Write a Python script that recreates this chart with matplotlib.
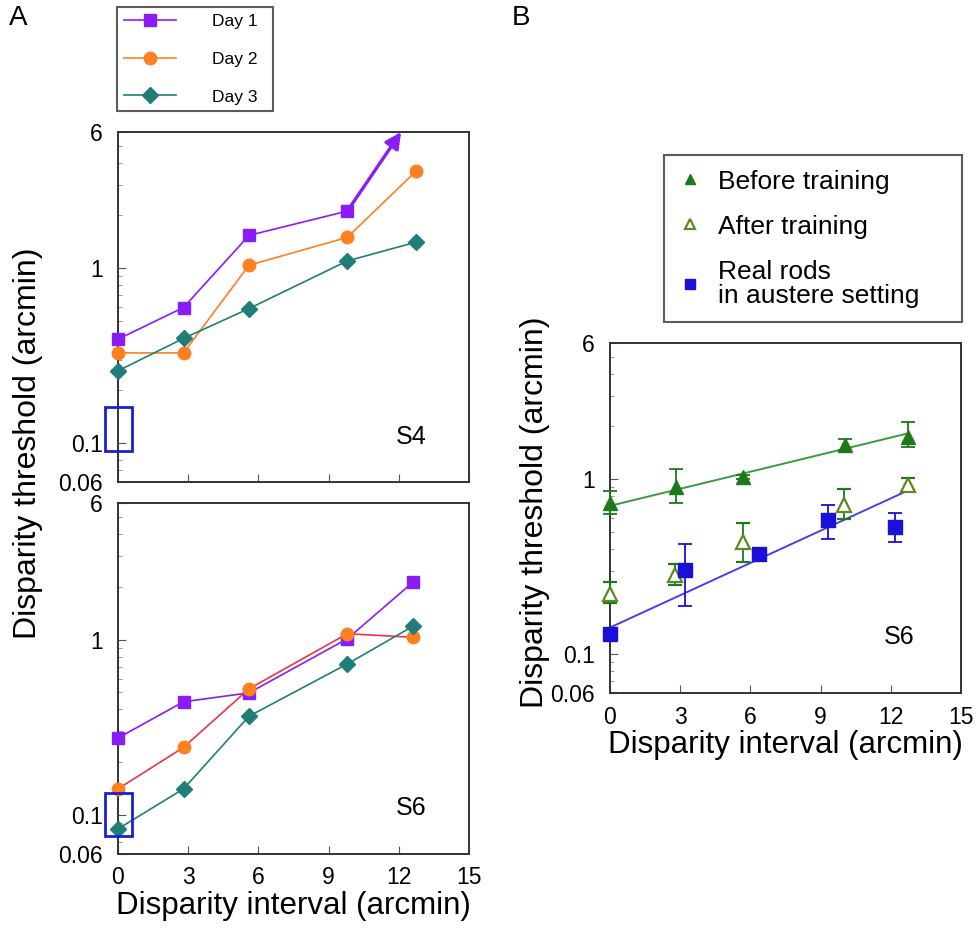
import numpy as np
import matplotlib
matplotlib.use("Agg")
import matplotlib.pyplot as plt
from matplotlib.ticker import LogLocator, NullFormatter, FixedLocator

plt.rcParams['font.family'] = ['Liberation Sans', 'DejaVu Sans']

# ---- panel A data (disparity interval, threshold) ----
days = ["Day 1", "Day 2", "Day 3"]

# S4
s4_x = [0, 2.8, 5.6, 9.8, 12.75]
s4_day1 = [0.393, 0.596, 1.54, 2.12]          # last point off scale -> arrow
s4_day1_arrow = [12.1, 6.0]
s4_day2 = [0.328, 0.328, 1.04, 1.50, 3.60]
s4_day3 = [0.259, 0.397, 0.588, 1.10, 1.41]

# S6
s6_x = [0, 2.8, 5.6, 9.8, 12.6]
s6_day1 = [0.275, 0.442, 0.497, 1.01, 2.12]
s6_day2 = [0.141, 0.243, 0.524, 1.08, 1.03]
s6_day3 = [0.0834, 0.141, 0.366, 0.726, 1.19]

# highlighted boxes at x=0 (x range, y range)
s4_box = [-0.56, 0.61, 0.09, 0.16]
s6_box = [-0.56, 0.61, 0.0764, 0.134]

# ---- panel B data ----
bt_x = [0, 2.8, 5.7, 10.05, 12.75]
bt_y = [0.73, 0.90, 1.03, 1.56, 1.74]
bt_lo = [0.63, 0.73, 1.0, 1.46, 1.52]
bt_hi = [0.86, 1.14, 1.06, 1.69, 2.12]

at_x = [0, 2.78, 5.7, 10.0, 12.75]
at_y = [0.222, 0.283, 0.438, 0.71, 0.924]
at_lo = [0.195, 0.248, 0.337, 0.59, 0.865]
at_hi = [0.259, 0.327, 0.563, 0.877, 1.02]

rr_x = [0, 3.2, 6.35, 9.33, 12.2]
rr_y = [0.130, 0.302, 0.376, 0.583, 0.530]
rr_lo = [0.130, 0.189, 0.376, 0.454, 0.438]
rr_hi = [0.130, 0.425, 0.376, 0.71, 0.637]

fit_x = [0, 12.76]
fit_bt = [0.704, 1.83]
fit_rr = [0.142, 0.865]

xticks = [0, 3, 6, 9, 12, 15]
yticks = [0.06, 0.1, 1, 6]
ytick_labels = ["0.06", "0.1", "1", "6"]

c_day1 = "#8a1cf5"
c_day2 = "#ff8020"
c_day3 = "#1f7f78"
c_red = "#ee3344"
c_green = "#1c7a1c"
c_green_line = "#3d9a3d"
c_blue = "#1a10d8"
c_blue_line = "#4a40e8"
c_box = "#1a20d0"

W, H = 979, 931
fig = plt.figure(figsize=(W / 100, H / 100), dpi=100)

def fr(l, t, r, b):
    return [l / W, (H - b) / H, (r - l) / W, (b - t) / H]

def style_axis(ax):
    ax.set_yscale("log")
    ax.set_xlim(0, 15)
    ax.set_ylim(0.06, 6)
    ax.yaxis.set_major_locator(FixedLocator(yticks))
    ax.set_yticklabels(ytick_labels)
    ax.yaxis.set_minor_locator(LogLocator(base=10, subs=np.arange(2, 10)))
    ax.yaxis.set_minor_formatter(NullFormatter())
    ax.set_xticks(xticks)
    ax.tick_params(axis="both", which="major", direction="in", length=6,
                   width=0.8, labelsize=16.5, color="#555555")
    ax.tick_params(axis="y", which="major", pad=11)
    ax.tick_params(axis="x", which="major", pad=9)
    ax.tick_params(axis="y", which="minor", direction="in", length=3,
                   width=0.6, color="#888888")
    ax.tick_params(top=False, right=False)
    for s in ax.spines.values():
        s.set_linewidth(1.4)
        s.set_color("#333333")

mk = dict(markersize=9, linewidth=1.2, clip_on=False, zorder=3)

# ---- A top (S4) ----
ax1 = fig.add_axes(fr(118, 132, 469, 482))
style_axis(ax1)
ax1.set_xticklabels([])
ax1.plot(s4_x[:4], s4_day1, marker="s", color=c_day1, label=days[0], **mk)
ax1.annotate("", xy=s4_day1_arrow, xytext=(s4_x[3], s4_day1[3]),
             arrowprops=dict(arrowstyle="-|>", color=c_day1, lw=2.4,
                             mutation_scale=24, shrinkA=0, shrinkB=0),
             annotation_clip=False)
ax1.plot(s4_x, s4_day2, marker="o", color=c_day2, label=days[1], **mk)
ax1.plot(s4_x, s4_day3, marker="D", color=c_day3, label=days[2],
         markersize=8, linewidth=1.2, clip_on=False, zorder=3)
ax1.add_patch(plt.Rectangle((s4_box[0], s4_box[2]), s4_box[1] - s4_box[0],
                            s4_box[3] - s4_box[2], fill=False, ec=c_box,
                            lw=2, clip_on=False, zorder=4))
ax1.text(0.836, 0.13, "S4", transform=ax1.transAxes, fontsize=18,
         ha="center", va="center")

leg = ax1.legend(loc="upper left",
                 bbox_to_anchor=(117 / W, 1 - 117 / H, 156 / W, 110 / H),
                 bbox_transform=fig.transFigure, mode="expand",
                 frameon=True, fancybox=False,
                 fontsize=12.5, handlelength=3.0, labelspacing=1.3,
                 borderpad=0.4, handletextpad=2.1, borderaxespad=0)
leg.get_frame().set_edgecolor("#333333")
leg.get_frame().set_linewidth(1.5)

# ---- A bottom (S6) ----
ax2 = fig.add_axes(fr(118, 503, 469, 854))
style_axis(ax2)
ax2.plot(s6_x, s6_day1, marker="s", color=c_day1, **mk)
ax2.plot(s6_x, s6_day2, marker="o", color=c_red, markerfacecolor=c_day2,
         markeredgecolor=c_day2, **mk)
ax2.plot(s6_x, s6_day3, marker="D", color=c_day3, markersize=8,
         linewidth=1.2, clip_on=False, zorder=3)
ax2.add_patch(plt.Rectangle((s6_box[0], s6_box[2]), s6_box[1] - s6_box[0],
                            s6_box[3] - s6_box[2], fill=False, ec=c_box,
                            lw=2, clip_on=False, zorder=4))
ax2.text(0.836, 0.131, "S6", transform=ax2.transAxes, fontsize=18,
         ha="center", va="center")
ax2.set_xlabel("Disparity interval (arcmin)", fontsize=22.5, labelpad=1)

fig.text(28 / W, 1 - 443 / H, "Disparity threshold (arcmin)", rotation=90,
         fontsize=23, ha="center", va="center")

# ---- B ----
ax3 = fig.add_axes(fr(610, 343, 961, 693))
style_axis(ax3)
ax3.plot(fit_x, fit_bt, color=c_green_line, lw=1.4, zorder=2)
ax3.plot(fit_x, fit_rr, color=c_blue_line, lw=1.4, zorder=2)

def ebar(x, y, lo, hi, **kw):
    y = np.array(y)
    err = [y - np.array(lo), np.array(hi) - y]
    return ax3.errorbar(x, y, yerr=err, linestyle="none", capsize=5,
                        elinewidth=1.3, capthick=1.3, clip_on=False, **kw)

ebar(bt_x, bt_y, bt_lo, bt_hi, marker="^", markersize=10, color=c_green,
     label="Before training", zorder=3)
ebar(at_x, at_y, at_lo, at_hi, marker="^", markersize=10, color=c_green,
     markerfacecolor="white", markeredgecolor="#5a8a20", markeredgewidth=1.6,
     label="After training", zorder=3)
ebar(rr_x, rr_y, rr_lo, rr_hi, marker="s", markersize=10, color=c_blue,
     label="Real rods\nin austere setting", zorder=4)
ax3.text(0.824, 0.161, "S6", transform=ax3.transAxes, fontsize=18,
         ha="center", va="center")
ax3.set_xlabel("Disparity interval (arcmin)", fontsize=22.5, labelpad=1)
fig.text(535 / W, 1 - 512 / H, "Disparity threshold (arcmin)", rotation=90,
         fontsize=23, ha="center", va="center")

h, l = ax3.get_legend_handles_labels()
h = [hh[0] for hh in h]
leg2 = ax3.legend(h, l, loc="upper left",
                  bbox_to_anchor=(664 / W, 1 - 323 / H, 298 / W, 168 / H),
                  bbox_transform=fig.transFigure, mode="expand",
                  frameon=True, fancybox=False,
                  fontsize=19, handlelength=0.9, labelspacing=0.8,
                  borderpad=0.55, handletextpad=0.6, borderaxespad=0,
                  markerscale=0.75)
for t in leg2.get_texts():
    t.set_linespacing(1.0)
leg2.get_frame().set_edgecolor("#333333")
leg2.get_frame().set_linewidth(1.5)

fig.text(18 / W, 1 - 18 / H, "A", fontsize=20, ha="center", va="center")
fig.text(521 / W, 1 - 18 / H, "B", fontsize=20, ha="center", va="center")

fig.savefig("out.png", dpi=100)
